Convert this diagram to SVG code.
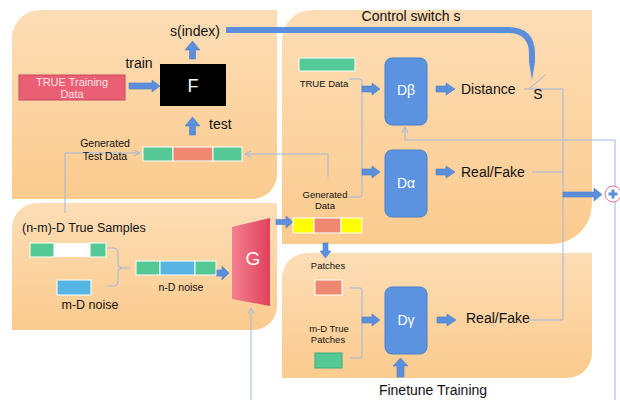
<svg xmlns="http://www.w3.org/2000/svg" width="620" height="400" viewBox="0 0 620 400">
<defs>
<linearGradient id="pg" x1="0" y1="0" x2="0" y2="1"><stop offset="0" stop-color="#FDDDB6"/><stop offset="1" stop-color="#FBCB8E"/></linearGradient>
<linearGradient id="gg" x1="0" y1="0" x2="1" y2="0"><stop offset="0" stop-color="#F2808F"/><stop offset="1" stop-color="#E0405C"/></linearGradient>
<marker id="ah" markerWidth="8" markerHeight="8" refX="6" refY="3" orient="auto" markerUnits="userSpaceOnUse"><path d="M0,0 L6,3 L0,6" fill="none" stroke="#9DB6DF" stroke-width="1"/></marker>
<style>
.panel{fill:url(#pg)}
.t{font-family:"Liberation Sans",Arial,sans-serif;fill:#111}
.w{font-family:"Liberation Sans",Arial,sans-serif;fill:#fff}
.pk{font-family:"Liberation Sans",Arial,sans-serif;fill:#FBE3E7}
.ba{fill:#5B8FDB;stroke:#4B7DC6;stroke-width:0.6}
.ln{fill:none;stroke:#9DB6DF;stroke-width:1}
.dbox{fill:#5B93E0;stroke:#4A7FCA;stroke-width:1}
.gr{fill:#55C995;stroke:#fff;stroke-width:1}
.sa{fill:#EF8870;stroke:#fff;stroke-width:1}
.ye{fill:#FFFF00;stroke:#fff;stroke-width:1}
.bl{fill:#57B5E4;stroke:#fff;stroke-width:1}
</style>
</defs>
<g id="panels">
<path class="panel" d="M12,38 A28,28 0 0 1 40,10 H277 V174 A25,25 0 0 1 252,199 H12 Z"/>
<path class="panel" d="M282,40 A30,30 0 0 1 312,10 H592 V204 A40,40 0 0 1 552,244 H282 Z"/>
<path class="panel" d="M12,228 A25,25 0 0 1 37,203 H277 V306 A24,24 0 0 1 253,330 H12 Z"/>
<path class="panel" d="M282,278 A25,25 0 0 1 307,253 H592 V353 A25,25 0 0 1 567,378 H282 Z"/>
</g>
<g id="connectors">
<path class="ln" d="M65,213 V153 H140" marker-end="url(#ah)"/>
<path class="ln" d="M328,177 V154 H245" marker-end="url(#ah)"/>
<path class="ln" d="M349,79 H360 Q362,79 362,81 V195 Q362,197 360,197 H349"/>
<path class="ln" d="M350,288 H360 Q362,288 362,290 V356 Q362,358 360,358 H350"/>
<path class="ln" d="M107,248 H114 Q118,248 118,252 V264 Q118,268 122,268 H130 M107,286 H114 Q118,286 118,282 V272 Q118,268 122,268"/>
<path class="ln" d="M524,89 H563 V320 H528"/>
<path class="ln" d="M532,172 H563"/>
<path class="ln" d="M530,88 L545,75"/>
<path class="ln" d="M615,400 V140 H405 V127" marker-end="url(#ah)"/>
<path class="ln" d="M251,400 V308" marker-end="url(#ah)"/>
<path d="M226,30 H508 Q532,30 532,54 V63" fill="none" stroke="#5B8FDB" stroke-width="6"/>
<path d="M529,62 L535,62 L532,80 Z" fill="#5B8FDB"/>
<path class="ba" d="M129,83 H152 V80 L160,86 L152,92 V89 H129 Z"/>
<path class="ba" d="M189.5,59 V50 H185 L192.5,41 L200,50 H195.5 V59 Z"/>
<path class="ba" d="M189.5,135 V126 H185 L192.5,117 L200,126 H195.5 V135 Z"/>
<path class="ba" d="M362,86 H372 V83 L380,89 L372,95 V92 H362 Z"/>
<path class="ba" d="M362,169 H372 V166 L380,172 L372,178 V175 H362 Z"/>
<path class="ba" d="M362,317 H372 V314 L380,320 L372,326 V323 H362 Z"/>
<path class="ba" d="M436,86 H446 V83 L455,89 L446,95 V92 H436 Z"/>
<path class="ba" d="M436,169 H446 V166 L455,172 L446,178 V175 H436 Z"/>
<path class="ba" d="M437,317 H447 V314 L456,320 L447,326 V323 H437 Z"/>
<path class="ba" d="M276,219.5 H286 V216 L293,222 L286,228 V224.5 H276 Z"/>
<path class="ba" d="M216,270 H222 V266 L229,273 L222,280 V276 H216 Z"/>
<path class="ba" d="M323,243 V251 H320 L325.5,258 L331,251 H328 V243 Z"/>
<path class="ba" d="M397,377 V366 H393 L400.5,358 L408,366 H404 V377 Z"/>
<path class="ba" d="M563,192 H594 V188 L602,194.5 L594,201 V197 H563 Z"/>
</g>
<g id="node-sindex"><text class="t" x="195" y="36" font-size="14" text-anchor="middle">s(index)</text></g>
<g id="node-train"><text class="t" x="139" y="68" font-size="14" text-anchor="middle">train</text></g>
<g id="node-truetraining">
<rect x="19" y="75" width="106" height="25" fill="#EB5F74" stroke="#C94A5F" stroke-width="1"/>
<text class="pk" x="72" y="86" font-size="11" text-anchor="middle">TRUE Training</text>
<text class="pk" x="72" y="97.5" font-size="11" text-anchor="middle">Data</text>
</g>
<g id="node-F">
<rect x="160" y="64" width="66" height="42" fill="#000"/>
<text class="w" x="193" y="92" font-size="18" text-anchor="middle">F</text>
</g>
<g id="node-test"><text class="t" x="209" y="129" font-size="14">test</text></g>
<g id="node-gentest">
<text class="t" x="105" y="147" font-size="10.5" text-anchor="middle">Generated</text>
<text class="t" x="105" y="160" font-size="10.5" text-anchor="middle">Test Data</text>
<rect class="gr" x="143" y="147" width="30" height="14"/>
<rect class="sa" x="173" y="147" width="40" height="14"/>
<rect class="gr" x="213" y="147" width="29" height="14"/>
</g>
<g id="node-control"><text class="t" x="411" y="21" font-size="14" text-anchor="middle">Control switch s</text></g>
<g id="node-truedata">
<rect class="gr" x="299" y="58" width="56" height="13"/>
<text class="t" x="324" y="87" font-size="9.5" text-anchor="middle">TRUE Data</text>
</g>
<g id="node-Dbeta">
<rect class="dbox" x="385" y="58" width="42" height="67" rx="7"/>
<text class="w" x="406" y="95" font-size="14" text-anchor="middle">Dβ</text>
</g>
<g id="node-Dalpha">
<rect class="dbox" x="385" y="150" width="42" height="67" rx="7"/>
<text class="w" x="406" y="188" font-size="14" text-anchor="middle">Dα</text>
</g>
<g id="node-distance"><text class="t" x="461" y="94" font-size="14">Distance</text></g>
<g id="node-S"><text class="t" x="538" y="99" font-size="14" text-anchor="middle">S</text></g>
<g id="node-realfake1"><text class="t" x="461" y="177" font-size="14">Real/Fake</text></g>
<g id="node-plus">
<circle cx="613" cy="194" r="8" fill="#fff" stroke="#E8798A" stroke-width="1"/>
<path d="M611.5,189.5 H614.5 V192.5 H617.5 V195.5 H614.5 V198.5 H611.5 V195.5 H608.5 V192.5 H611.5 Z" fill="#5B8FDB"/>
</g>
<g id="node-gendata">
<text class="t" x="325" y="198" font-size="9.5" text-anchor="middle">Generated</text>
<text class="t" x="325" y="209" font-size="9.5" text-anchor="middle">Data</text>
<rect class="ye" x="293" y="218" width="21" height="15"/>
<rect class="sa" x="314" y="218" width="27" height="15"/>
<rect class="ye" x="341" y="218" width="21" height="15"/>
</g>
<g id="node-patches">
<text class="t" x="328" y="269" font-size="9.5" text-anchor="middle">Patches</text>
<rect class="sa" x="315" y="280" width="27" height="15"/>
</g>
<g id="node-truepatches">
<text class="t" x="329" y="332" font-size="9.5" text-anchor="middle">m-D True</text>
<text class="t" x="328" y="343" font-size="9.5" text-anchor="middle">Patches</text>
<rect x="315" y="353" width="27" height="15" fill="#55C995" stroke="#3FA877" stroke-width="1"/>
</g>
<g id="node-Dgamma">
<rect class="dbox" x="385" y="287" width="42" height="67" rx="7"/>
<text class="w" x="406" y="325" font-size="14" text-anchor="middle">Dγ</text>
</g>
<g id="node-realfake2"><text class="t" x="466" y="323" font-size="14">Real/Fake</text></g>
<g id="node-finetune"><text class="t" x="433" y="395" font-size="14" text-anchor="middle">Finetune Training</text></g>
<g id="node-truesamples">
<text class="t" x="22" y="232" font-size="12.5">(n-m)-D True Samples</text>
<rect class="gr" x="30" y="243" width="24" height="14"/>
<rect x="54" y="243" width="36" height="14" fill="#fff"/>
<rect class="gr" x="90" y="243" width="16" height="14"/>
</g>
<g id="node-mnoise">
<rect class="bl" x="57" y="280" width="34" height="15"/>
<text class="t" x="90" y="309" font-size="12.5" text-anchor="middle">m-D noise</text>
</g>
<g id="node-nnoise">
<rect class="gr" x="136" y="261" width="24" height="14"/>
<rect class="bl" x="160" y="261" width="35" height="14"/>
<rect class="gr" x="195" y="261" width="21" height="14"/>
<text class="t" x="181" y="291" font-size="10.5" text-anchor="middle">n-D noise</text>
</g>
<g id="node-G">
<path d="M232,227 L270,218 L270,306 L232,299 Z" fill="url(#gg)"/>
<text class="w" x="253" y="265" font-size="19" text-anchor="middle">G</text>
</g>
</svg>
